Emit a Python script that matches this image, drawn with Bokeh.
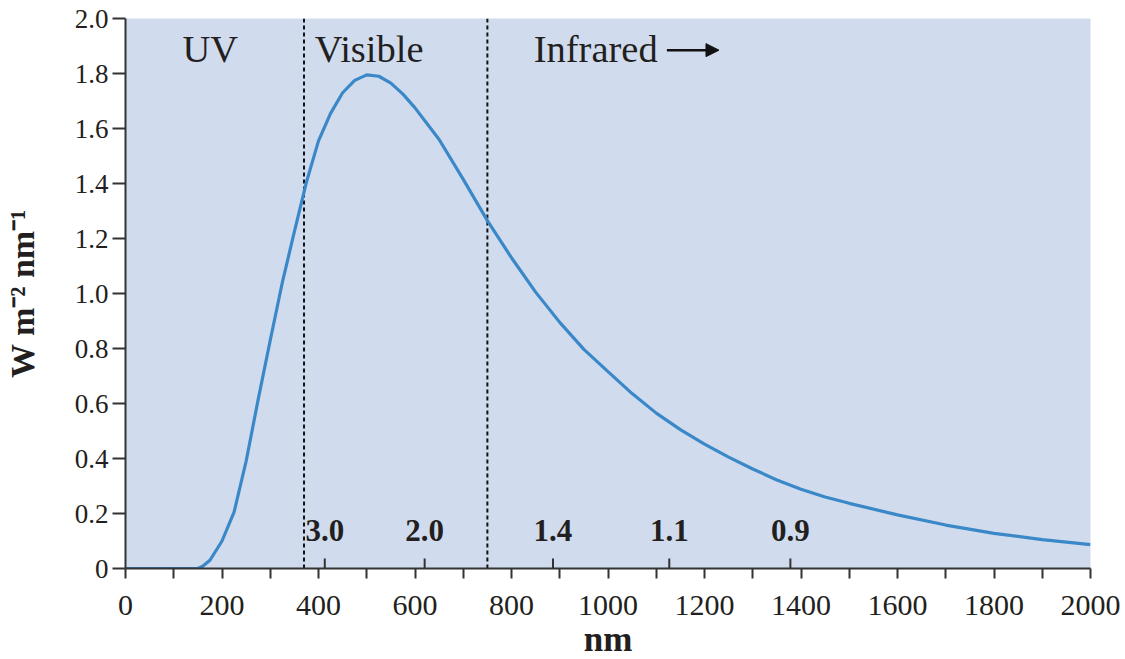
from bokeh.plotting import figure
from bokeh.models import FixedTicker, Range1d, Arrow, NormalHead
from bokeh.core.properties import value
from bokeh.embed import file_html
from bokeh.resources import INLINE

# ---- data ----
wavelength_nm = [0, 50, 100, 150, 160, 175, 200, 225, 250, 275, 300, 325, 350, 375, 400, 425,
                 450, 475, 500, 525, 550, 575, 600, 650, 700, 750, 800, 850, 900, 950, 1000,
                 1050, 1100, 1150, 1200, 1250, 1300, 1350, 1400, 1450, 1500, 1600, 1700, 1800,
                 1900, 2000]
irradiance = [0, 0, 0, 0, 0.008, 0.03, 0.10, 0.205, 0.39, 0.615, 0.83, 1.04, 1.225, 1.405, 1.555, 1.655,
              1.73, 1.775, 1.795, 1.79, 1.765, 1.725, 1.675, 1.56, 1.415, 1.265, 1.13, 1.005, 0.895, 0.797, 0.716,
              0.636, 0.565, 0.505, 0.452, 0.405, 0.362, 0.322, 0.288, 0.26, 0.237, 0.195, 0.158, 0.128,
              0.105, 0.087]

region_bounds_nm = [370, 750]
region_names = ["UV", "Visible", "Infrared"]
region_label_x = [118, 392, 846]

energy_ev_labels = ["3.0", "2.0", "1.4", "1.1", "0.9"]
energy_positions_nm = [413, 620, 886, 1127, 1378]

x_major_ticks = [0, 200, 400, 600, 800, 1000, 1200, 1400, 1600, 1800, 2000]
x_minor_ticks = [100, 300, 500, 700, 900, 1100, 1300, 1500, 1700, 1900]
y_ticks = [0, 0.2, 0.4, 0.6, 0.8, 1.0, 1.2, 1.4, 1.6, 1.8, 2.0]
y_tick_labels = ["0", "0.2", "0.4", "0.6", "0.8", "1.0", "1.2", "1.4", "1.6", "1.8", "2.0"]

SERIF = "Liberation Serif"
TXT = "#231f20"

p = figure(width=1125, height=659, output_backend="svg", toolbar_location=None,
           x_range=Range1d(0, 2000), y_range=Range1d(0, 2.0),
           min_border_left=125, min_border_right=35, min_border_top=18, min_border_bottom=91)
p.frame_width = 965
p.frame_height = 550
p.background_fill_color = "#d0dcee"
p.border_fill_color = "white"
p.outline_line_color = None
p.grid.visible = False

# axes
p.xaxis.ticker = FixedTicker(ticks=x_major_ticks, minor_ticks=x_minor_ticks)
p.yaxis.ticker = FixedTicker(ticks=y_ticks)
p.yaxis.major_label_overrides = {t: l for t, l in zip(y_ticks, y_tick_labels)}
p.xaxis.major_label_overrides = {t: str(t) for t in x_major_ticks}
for ax in (p.xaxis, p.yaxis):
    ax.axis_line_color = "#333333"
    ax.axis_line_width = 2
    ax.major_tick_line_color = "#333333"
    ax.major_tick_line_width = 2
    ax.minor_tick_line_color = "#333333"
    ax.minor_tick_line_width = 2
    ax.major_tick_in = 0
    ax.minor_tick_in = 0
    ax.major_label_text_font = SERIF
    ax.major_label_text_color = TXT
    ax.axis_label_text_font = SERIF
    ax.axis_label_text_font_style = "bold"
    ax.axis_label_text_color = TXT
p.xaxis.major_tick_out = 10
p.xaxis.minor_tick_out = 10
p.yaxis.major_tick_out = 13
p.yaxis.minor_tick_out = 0
p.xaxis.major_label_text_font_size = "30px"
p.yaxis.major_label_text_font_size = "27px"
p.xaxis.major_label_standoff = 17
p.yaxis.major_label_standoff = 4
p.xaxis.axis_label = "nm"
p.xaxis.axis_label_text_font_size = "35px"
p.xaxis.axis_label_standoff = 2
p.yaxis.axis_label = "W m\u207b\u00b2 nm\u207b\u00b9"
p.yaxis.axis_label_text_font_size = "34px"
p.yaxis.axis_label_standoff = 31

# region boundaries
p.segment(x0=region_bounds_nm, y0=[0, 0], x1=region_bounds_nm, y1=[2.0, 2.0],
          line_color="#111111", line_width=2, line_dash="4 3")

# curve
p.line(wavelength_nm, irradiance, line_color="#3b88c8", line_width=3.2)

# energy ticks and labels
p.segment(x0=energy_positions_nm, y0=[0] * 5, x1=energy_positions_nm, y1=[0.036] * 5,
          line_color="#333333", line_width=2)
p.text(x=energy_positions_nm, y=[0.138] * 5, text=energy_ev_labels,
       text_font=value(SERIF), text_font_style="bold", text_font_size="31px",
       text_color=TXT, text_align="center", text_baseline="middle")

# region names
p.text(x=region_label_x, y=[1.89] * 3, text=region_names,
       text_font=value(SERIF), text_font_size="38.5px",
       text_color=TXT, text_align="left", text_baseline="alphabetic")

p.add_layout(Arrow(end=NormalHead(size=13, fill_color="#111111", line_color="#111111"),
                   x_start=1122, y_start=1.885, x_end=1230, y_end=1.885,
                   line_color="#111111", line_width=2.5))

open("out.html", "w").write(file_html(p, INLINE))
